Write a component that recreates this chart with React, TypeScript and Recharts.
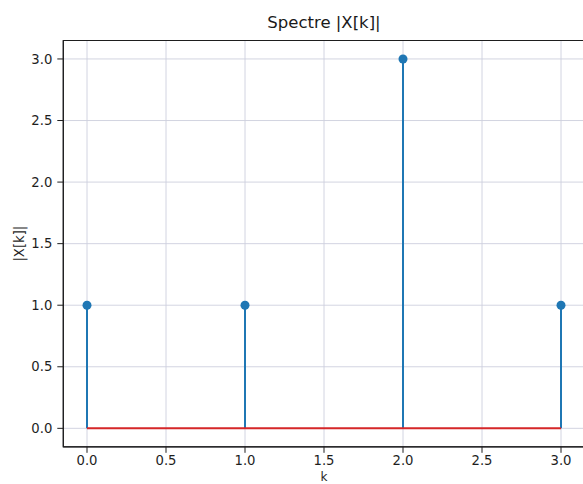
import React from "react";
import {
  ComposedChart,
  Scatter,
  Line,
  XAxis,
  YAxis,
  CartesianGrid,
  ErrorBar,
  ReferenceArea,
  Label,
} from "recharts";

// donnees du spectre
const kValues = [0, 1, 2, 3];
const magnitudes = [1, 1, 3, 1];
const baselineK = [0, 3];
const xTicks = [0, 0.5, 1, 1.5, 2, 2.5, 3];
const yTicks = [0, 0.5, 1, 1.5, 2, 2.5, 3];

const stemData = kValues.map((k, i) => ({
  k,
  v: magnitudes[i],
  stem: [magnitudes[i], 0],
}));
const baselineData = baselineK.map((k) => ({ k, v: 0 }));

const FONT = "DejaVu Sans, sans-serif";
const AXIS = "#1e1e1e";
const GRID = "#cdcfde";

const Marker = (props: any) => {
  const { cx, cy } = props;
  return <circle cx={cx} cy={cy} r={4.5} fill="#1f77b4" />;
};

export default function App() {
  return (
    <div
      style={{
        position: "fixed",
        left: 0,
        top: 0,
        width: 583,
        height: 484,
        overflow: "hidden",
        background: "#fff",
        fontFamily: FONT,
      }}
    >
      <div
        style={{
          position: "absolute",
          left: 0,
          width: 648,
          top: 13,
          textAlign: "center",
          fontSize: 16.5,
          color: "#1a1a1a",
        }}
      >
        Spectre |X[k]|
      </div>
      <ComposedChart
        width={600}
        height={484}
        margin={{ top: 40.5, right: 15.3, bottom: 0, left: 0 }}
        style={{ position: "absolute", left: 0, top: 0 }}
      >
        <CartesianGrid stroke={GRID} strokeWidth={0.9} />
        <XAxis
          dataKey="k"
          type="number"
          domain={[-0.15, 3.15]}
          ticks={xTicks}
          tickFormatter={(v: number) => v.toFixed(1)}
          height={37.2}
          tickSize={6}
          tickMargin={3}
          stroke={AXIS}
          tick={{ fill: AXIS, fontSize: 13.2, fontFamily: FONT }}
          allowDataOverflow
        >
          <Label
            content={(p: any) => {
              const vb = p.viewBox;
              return (
                <text
                  x={vb.x + vb.width / 2}
                  y={481}
                  textAnchor="middle"
                  fontSize={12}
                  fontFamily={FONT}
                  fill={AXIS}
                >
                  k
                </text>
              );
            }}
          />
        </XAxis>
        <YAxis
          type="number"
          domain={[-0.15, 3.15]}
          ticks={yTicks}
          tickFormatter={(v: number) => v.toFixed(1)}
          width={63.3}
          tickSize={6}
          tickMargin={5}
          stroke={AXIS}
          tick={{ fill: AXIS, fontSize: 13.2, fontFamily: FONT }}
          allowDataOverflow
        >
          <Label
            content={(p: any) => {
              const vb = p.viewBox;
              const cy = vb.y + vb.height / 2;
              return (
                <text
                  x={24}
                  y={cy}
                  transform={`rotate(-90 24 ${cy})`}
                  textAnchor="middle"
                  fontSize={13.2}
                  fontFamily={FONT}
                  fill={AXIS}
                >
                  |X[k]|
                </text>
              );
            }}
          />
        </YAxis>
        <ReferenceArea
          x1={-0.15}
          x2={3.15}
          y1={-0.15}
          y2={3.15}
          fill="none"
          fillOpacity={0}
          stroke={AXIS}
          strokeWidth={1.2}
          ifOverflow="visible"
        />
        <Scatter
          data={stemData}
          dataKey="v"
          shape={<Marker />}
          isAnimationActive={false}
        >
          <ErrorBar
            dataKey="stem"
            direction="y"
            width={0}
            stroke="#1f77b4"
            strokeWidth={2}
            isAnimationActive={false}
          />
        </Scatter>
        <Line
          data={baselineData}
          dataKey="v"
          type="linear"
          stroke="#d62728"
          strokeWidth={2}
          dot={false}
          activeDot={false}
          isAnimationActive={false}
        />
      </ComposedChart>
    </div>
  );
}
